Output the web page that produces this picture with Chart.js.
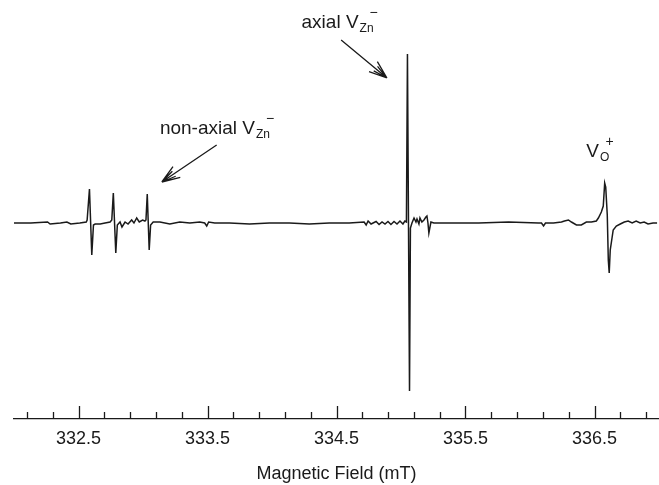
<!DOCTYPE html>
<html>
<head>
<meta charset="utf-8">
<script src="https://cdn.jsdelivr.net/npm/chart.js@4.4.1/dist/chart.umd.min.js"></script>
<style>
  html, body { margin: 0; padding: 0; background: #fff; }
  canvas { display: block; }
</style>
</head>
<body>
<canvas id="epr" width="659" height="485"></canvas>
<script>
// EPR trace: field in mT, signal in arbitrary units (0 = baseline)
const field = [
  332.00, 332.13, 332.26, 332.28, 332.36, 332.41, 332.44, 332.51, 332.56,
  332.567, 332.585, 332.603, 332.616, 332.629, 332.668, 332.706, 332.745,
  332.758, 332.770, 332.789, 332.801, 332.822, 332.837, 332.861, 332.884,
  332.912, 332.930, 332.951, 332.971, 332.997, 333.015,
  333.023, 333.033, 333.048, 333.059, 333.079,
  333.131, 333.208, 333.285, 333.363, 333.440, 333.478, 333.494, 333.509,
  333.556, 333.671, 333.826, 333.980, 334.135, 334.289, 334.444, 334.598,
  334.714, 334.730, 334.745, 334.768, 334.807, 334.830, 334.853, 334.876,
  334.899, 334.922, 334.946, 334.969, 334.992, 335.015, 335.030, 335.042,
  335.050, 335.058, 335.066, 335.073,
  335.085, 335.101, 335.116, 335.124, 335.139, 335.147, 335.162, 335.178,
  335.193, 335.201, 335.209, 335.216, 335.232, 335.255,
  335.371, 335.602, 335.834, 336.066, 336.089, 336.105, 336.120, 336.182,
  336.244, 336.267, 336.298, 336.321, 336.360, 336.398, 336.437, 336.476,
  336.514, 336.530, 336.553, 336.568, 336.579, 336.587, 336.599, 336.607,
  336.614, 336.622, 336.645, 336.669, 336.700, 336.731, 336.761, 336.792,
  336.823, 336.854, 336.885, 336.915, 336.954, 336.985
];
const signal = [
  0, 0, 1, -1, 0, 1, -1, 0, 1,
  3, 34, -32, -2, -1, -1, 0, 1,
  3, 30, -30, -2, 1, -4, 1, -1,
  3, 0, 5, 1, 3, 2,
  3, 29, -27, -2, 1,
  1, -1, 1, 0, 1, 0, -3, 1,
  0, 0, -1, 0, 0, -1, 0, 0,
  1, -2, 2, -1, 1.5, -1.5, 1, -1,
  1.5, -1.5, 1.5, -1, 2, -1, 2, 1,
  169, 0, -168, -5,
  0, 5, 1, 4, -1, 5, 1, 3,
  6, 7, 0, -10, 1, 0,
  0, 0, 1, 0, 0, -3, 0, 0,
  1, 2, 3, 1, -2, -2, 1, 1,
  2, 5, 11, 17, 40, 36, 8, -37,
  -50, -27, -7, -3, -1, 1, 2, 0,
  2, 0, 1, -1, 0, 0
];

const tickValues = [
  332.1, 332.3, 332.5, 332.7, 332.9, 333.1, 333.3, 333.5, 333.7, 333.9,
  334.1, 334.3, 334.5, 334.7, 334.9, 335.1, 335.3, 335.5, 335.7, 335.9,
  336.1, 336.3, 336.5, 336.7, 336.9
];
const majorTicks = [332.5, 333.5, 334.5, 335.5, 336.5];

const ink = '#1a1a1a';
const fontFamily = "'Liberation Sans', Arial, Helvetica, sans-serif";
const isMajor = v => majorTicks.some(m => Math.abs(m - v) < 1e-6);

// labels and arrows, anchored in data units
const labels = [
  { main: 'non-axial V', sub: 'Zn', sup: '\u2212', at: [333.131, 89] },
  { main: 'axial V', sub: 'Zn', sup: '\u2212', at: [334.229, 195] },
  { main: 'V', sub: 'O', sup: '+', at: [336.437, 66] }
];
const arrows = [
  { from: [333.571, 78], to: [333.146, 41] },
  { from: [334.536, 183], to: [334.891, 145] }
];

const annotate = {
  id: 'annotate',
  afterDraw(chart) {
    const { ctx, chartArea, scales: { x, y } } = chart;
    ctx.save();
    ctx.strokeStyle = ink;
    ctx.fillStyle = ink;
    ctx.lineWidth = 1.3;

    // axis tick marks pointing up
    const axisY = chartArea.bottom;
    tickValues.forEach(v => {
      const px = Math.round(x.getPixelForValue(v)) + 0.5;
      ctx.beginPath();
      ctx.moveTo(px, axisY);
      ctx.lineTo(px, axisY - (isMajor(v) ? 13 : 7));
      ctx.stroke();
    });

    // text with subscript and superscript
    ctx.textBaseline = 'alphabetic';
    ctx.textAlign = 'left';
    labels.forEach(l => {
      let px = x.getPixelForValue(l.at[0]);
      const py = y.getPixelForValue(l.at[1]);
      ctx.font = `19px ${fontFamily}`;
      ctx.fillText(l.main, px, py);
      px += ctx.measureText(l.main).width + 1;
      ctx.font = `12px ${fontFamily}`;
      ctx.fillText(l.sub, px, py + 4);
      const supX = px + ctx.measureText(l.sub).width - 4;
      ctx.font = `14px ${fontFamily}`;
      ctx.fillText(l.sup, supX, py - 11);
    });

    // open arrowheads
    arrows.forEach(a => {
      const x1 = x.getPixelForValue(a.from[0]), y1 = y.getPixelForValue(a.from[1]);
      const x2 = x.getPixelForValue(a.to[0]), y2 = y.getPixelForValue(a.to[1]);
      const ang = Math.atan2(y2 - y1, x2 - x1);
      ctx.beginPath();
      ctx.moveTo(x1, y1);
      ctx.lineTo(x2, y2);
      [0.35, -0.35, 0.2, -0.2].forEach((d, i) => {
        const len = i < 2 ? 19 : 15;
        ctx.moveTo(x2, y2);
        ctx.lineTo(x2 - len * Math.cos(ang + d), y2 - len * Math.sin(ang + d));
      });
      ctx.stroke();
    });
    ctx.restore();
  }
};

new Chart(document.getElementById('epr'), {
  type: 'line',
  data: {
    datasets: [{
      data: field.map((f, i) => ({ x: f, y: signal[i] })),
      borderColor: ink,
      borderWidth: 1.5,
      pointRadius: 0,
      tension: 0,
      fill: false
    }]
  },
  options: {
    responsive: false,
    animation: false,
    devicePixelRatio: 1,
    layout: { padding: { left: 14, right: 0, top: 0, bottom: 0 } },
    plugins: { legend: { display: false }, tooltip: { enabled: false } },
    scales: {
      x: {
        type: 'linear',
        min: 332,
        max: 337,
        border: { display: true, color: ink, width: 1.3 },
        grid: { display: false, drawTicks: false },
        afterBuildTicks: scale => {
          scale.ticks = tickValues.map(v => ({ value: v }));
        },
        afterFit: scale => { scale.height = 66; },
        ticks: {
          autoSkip: false,
          maxRotation: 0,
          padding: 9,
          color: ink,
          font: { family: fontFamily, size: 18 },
          callback: v => (isMajor(v) ? v.toFixed(1) : '')
        },
        title: {
          display: true,
          text: 'Magnetic Field (mT)',
          color: ink,
          font: { family: fontFamily, size: 18 },
          padding: { top: 4, bottom: 0 }
        }
      },
      y: { display: false, min: -196, max: 223 }
    }
  },
  plugins: [annotate]
});
</script>
</body>
</html>
